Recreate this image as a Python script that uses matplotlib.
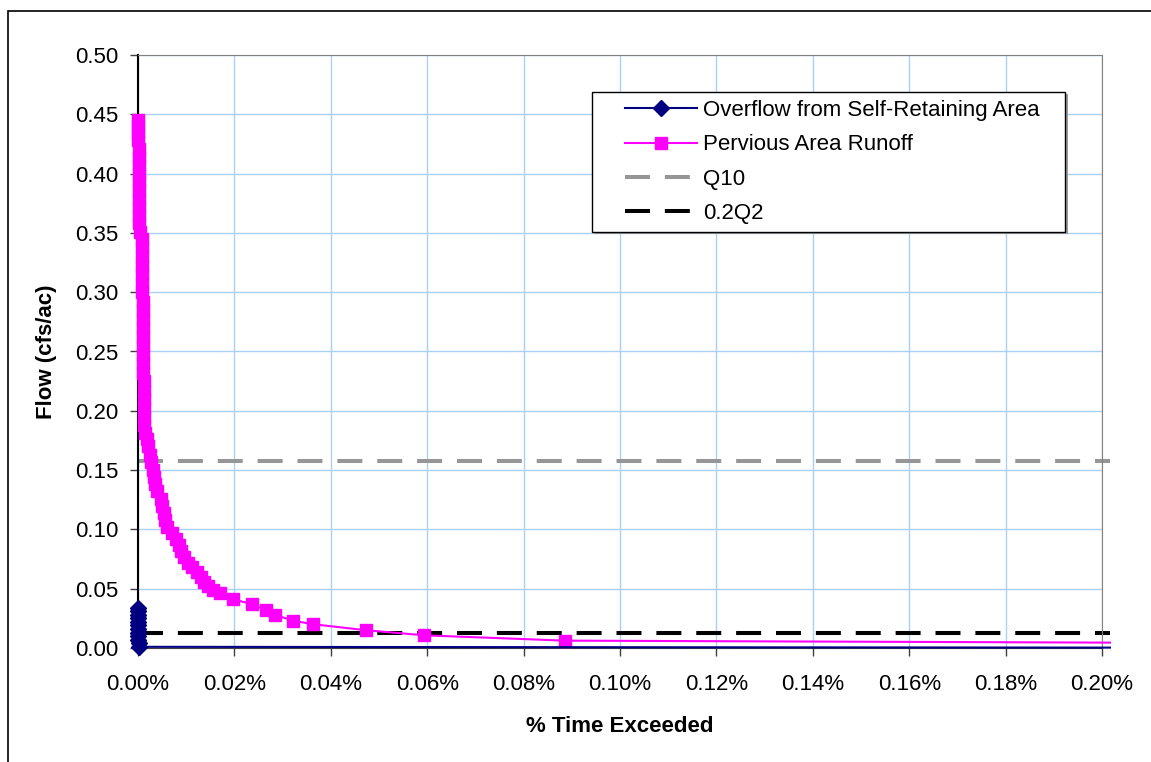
"""Flow duration curve: overflow vs. pervious area runoff, with Q10 and 0.2Q2 thresholds."""

import matplotlib

matplotlib.use("Agg")
import matplotlib.pyplot as plt
from matplotlib.patches import Rectangle
from matplotlib.ticker import MultipleLocator, StrMethodFormatter

plt.rcParams["font.family"] = ["Liberation Sans", "DejaVu Sans"]

# % time exceeded (in percent units) and flow (cfs/ac)
PERVIOUS_TIME = [
    0.0001, 0.0001, 0.0001, 0.0001, 0.0002, 0.0002, 0.0002, 0.0002,
    0.0002, 0.0003, 0.0003, 0.0003, 0.0003, 0.0003, 0.0004,
    0.0008, 0.0008, 0.0008, 0.0009, 0.0009, 0.0009, 0.0009, 0.0010,
    0.0010, 0.0010, 0.0010, 0.0011, 0.0011, 0.0011, 0.0011, 0.0011,
    0.0012, 0.0012, 0.0012, 0.0012, 0.0013, 0.0013, 0.0014,
    0.0018, 0.0021, 0.0025, 0.0028, 0.0031, 0.0034, 0.0036, 0.0040,
    0.0047, 0.0050, 0.0053, 0.0056, 0.0060, 0.0070, 0.0078, 0.0085,
    0.0090, 0.0096, 0.0104, 0.0113, 0.0122, 0.0130, 0.0137, 0.0146,
    0.0155, 0.0170, 0.0198, 0.0236, 0.0265, 0.0284, 0.0322, 0.0364,
    0.0473, 0.0594, 0.0886, 0.3000,
]
PERVIOUS_FLOW = [
    0.445, 0.440, 0.434, 0.428, 0.421, 0.414, 0.407, 0.400,
    0.393, 0.386, 0.379, 0.372, 0.365, 0.358, 0.351,
    0.345, 0.338, 0.330, 0.322, 0.315, 0.307, 0.300, 0.292,
    0.285, 0.277, 0.270, 0.262, 0.255, 0.247, 0.240, 0.232,
    0.225, 0.217, 0.210, 0.202, 0.195, 0.188, 0.181,
    0.176, 0.170, 0.163, 0.157, 0.150, 0.144, 0.138, 0.132,
    0.126, 0.120, 0.114, 0.108, 0.102, 0.097, 0.092, 0.087,
    0.082, 0.077, 0.072, 0.068, 0.064, 0.060, 0.056, 0.052,
    0.049, 0.046, 0.041, 0.037, 0.032, 0.028, 0.023, 0.020,
    0.015, 0.0107, 0.0062, 0.0031,
]
OVERFLOW_TIME = [
    0.0000, 0.0000, 0.0000, 0.0000, 0.0001, 0.0001, 0.0001, 0.0001,
    0.0001, 0.0001, 0.0002, 0.0002, 0.3000,
]
OVERFLOW_FLOW = [
    0.034, 0.031, 0.028, 0.025, 0.022, 0.019, 0.016, 0.013,
    0.010, 0.007, 0.004, 0.001, 0.000,
]
Q10 = 0.158
Q2_FRACTION = 0.013

FONT_SIZE = 16

figure = plt.figure(figsize=(11.51, 7.62), dpi=100)
figure.patches.append(
    Rectangle(
        (8 / 1151, -0.1), 1.2, 1.1 - 11 / 762,
        transform=figure.transFigure, fill=False, edgecolor="black", linewidth=1.2,
    )
)
axis = figure.add_axes([138 / 1151, 1 - 648 / 762, 964 / 1151, 593 / 762])

clip_box = Rectangle((-0.03, -0.03), 1.039, 1.06, transform=axis.transAxes)

gray_line = axis.axhline(
    Q10, xmin=0, xmax=1.008, color="#969696", linewidth=2.9,
    dashes=(6.2, 3.7), label="Q10", zorder=2,
)
black_line = axis.axhline(
    Q2_FRACTION, xmin=0, xmax=1.008, color="black", linewidth=2.9,
    dashes=(6.2, 3.7), label="0.2Q2", zorder=2,
)
(pink_line,) = axis.plot(
    PERVIOUS_TIME, PERVIOUS_FLOW, color="#FF00FF", linewidth=1.5,
    marker="s", markersize=8, markeredgecolor="#FF00FF",
    label="Pervious Area Runoff", zorder=3,
)
(blue_line,) = axis.plot(
    OVERFLOW_TIME, OVERFLOW_FLOW, color="#000080", linewidth=1.5,
    marker="D", markersize=8.5, markeredgecolor="#000080",
    label="Overflow from Self-Retaining Area", zorder=4,
)
for line in (gray_line, black_line, pink_line, blue_line):
    line.set_clip_path(clip_box)

axis.set_xlim(0, 0.2)
axis.set_ylim(0, 0.5)
axis.xaxis.set_major_locator(MultipleLocator(0.02))
axis.yaxis.set_major_locator(MultipleLocator(0.05))
axis.xaxis.set_major_formatter(StrMethodFormatter("{x:.2f}%"))
axis.yaxis.set_major_formatter(StrMethodFormatter("{x:.2f}"))
axis.tick_params(axis="x", direction="out", length=6, width=1, pad=13,
                 labelsize=FONT_SIZE, color="#404040")
axis.tick_params(axis="y", direction="out", length=6, width=1, pad=8,
                 labelsize=FONT_SIZE, color="#404040")
axis.grid(color="#A9D0F5", linewidth=1)
axis.set_axisbelow(True)
for side in ("top", "right"):
    axis.spines[side].set_color("#808080")
axis.spines["left"].set_color("black")
axis.spines["left"].set_linewidth(1.5)
axis.spines["bottom"].set_color("#404040")

axis.set_xlabel("% Time Exceeded", fontsize=FONT_SIZE, fontweight="bold", labelpad=15)
axis.set_ylabel("Flow (cfs/ac)", fontsize=FONT_SIZE, fontweight="bold", labelpad=13)

# legend frame drawn separately (Excel-style left indent and shadow)
legend_left, legend_right = (592 - 138) / 964, (1065 - 138) / 964
legend_top, legend_bottom = (648 - 92) / 593, (648 - 232) / 593
axis.add_patch(
    Rectangle(
        (legend_left + 0.003, legend_bottom - 0.004), legend_right - legend_left,
        legend_top - legend_bottom, transform=axis.transAxes,
        facecolor="#9A9A9A", edgecolor="none", zorder=5,
    )
)
axis.add_patch(
    Rectangle(
        (legend_left, legend_bottom), legend_right - legend_left,
        legend_top - legend_bottom, transform=axis.transAxes,
        facecolor="white", edgecolor="black", linewidth=1, zorder=6,
    )
)
legend = axis.legend(
    handles=[blue_line, pink_line, gray_line, black_line],
    loc="upper left", bbox_to_anchor=((625 - 138) / 964, (648 - 100) / 593),
    borderaxespad=0, borderpad=0, fontsize=FONT_SIZE, frameon=False,
    handlelength=3.25, handletextpad=0.27, labelspacing=0.6,
)
legend.set_zorder(7)

figure.savefig("out.png", dpi=100)
